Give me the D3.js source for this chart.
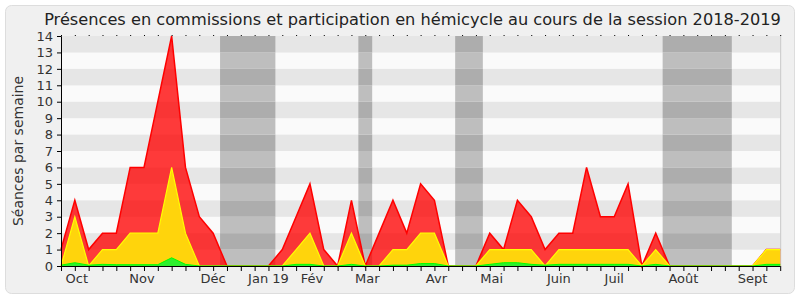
<!DOCTYPE html>
<html><head><meta charset="utf-8">
<script src="https://cdn.jsdelivr.net/npm/d3@7"></script>
<style>body{margin:0;background:#fff}</style>
</head><body>
<svg id="c" width="800" height="300"></svg>
<script>
const startWeek = "2018-10-01";
// weekly values, 53 weeks (Oct 1 2018 -> Sep 30 2019)
const redValues = [1,4,1,2,2,6,6,10,14,6,3,2,0,0,0,0,1,3,5,1,0,4,0,2,4,2,5,4,0,0,0,2,1,4,3,1,2,2,6,3,3,5,0,2,0,0,0,0,0,0,0,1,1];
const yellowValues = [0,3,0,1,1,2,2,2,6,2,0,0,0,0,0,0,0,1,2,0,0,2,0,0,1,1,2,2,0,0,0,1,1,1,1,0,1,1,1,1,1,1,0,1,0,0,0,0,0,0,0,1,1];
const greenValues = [0.05,0.2,0.05,0.1,0.08,0.08,0.08,0.08,0.5,0.1,0,0,0,0,0,0,0,0.1,0.1,0,0,0.1,0,0,0.05,0.05,0.15,0.15,0,0,0,0.1,0.2,0.2,0.1,0.05,0.1,0.1,0.1,0.1,0.1,0.1,0,0.1,0,0,0,0,0,0,0,0.1,0.1];
const vacations = [["2018-12-24","2019-01-14"],["2019-03-04","2019-03-04"],["2019-04-22","2019-04-29"],["2019-08-05","2019-09-02"]];
const monthLabels = ["Oct","Nov","Déc","Jan 19","Fév","Mar","Avr","Mai","Juin","Juil","Août","Sept"];
const monthLabelDates = ["2018-10-09","2018-11-11","2018-12-17","2019-01-14","2019-02-05","2019-03-05","2019-04-09","2019-05-07","2019-06-10","2019-07-08","2019-08-12","2019-09-16"];
const yTicks = [0,1,2,3,4,5,6,7,8,9,10,11,12,13,14];
const titleText = "Présences en commissions et participation en hémicycle au cours de la session 2018-2019";
const yTitle = "Séances par semaine";

const svg = d3.select("#c");
const font = "DejaVu Sans";
const parse = d3.utcParse("%Y-%m-%d");
const t0 = parse(startWeek);
const weeks = redValues.map((_, i) => d3.utcDay.offset(t0, 7 * i));
const W = 7 * 24 * 3600 * 1000;

const x = d3.scaleUtc().domain([weeks[0], weeks[weeks.length - 1]]).range([61, 780.2]);
const y = d3.scaleLinear().domain([0, 14]).range([266, 36]);

// frame
svg.append("rect").attr("x", 5.5).attr("y", 5.5).attr("width", 789).attr("height", 288).attr("rx", 6)
  .attr("fill", "#f0f0f0").attr("stroke", "#dddddd");

// stripes
const g = svg.append("g");
for (let k = 0; k < 14; k++) {
  g.append("rect").attr("x", x.range()[0]).attr("width", x.range()[1] - x.range()[0])
    .attr("y", y(k + 1)).attr("height", y(k) - y(k + 1))
    .attr("fill", k % 2 === 1 ? "#e6e6e6" : "#fafafa");
}
// vacation bands
vacations.forEach(([a, b]) => {
  const xa = x(new Date(parse(a).getTime() - W / 2)), xb = x(new Date(parse(b).getTime() + W / 2));
  for (let k = 0; k < 14; k++) {
    g.append("rect").attr("x", xa).attr("width", xb - xa)
      .attr("y", y(k + 1)).attr("height", y(k) - y(k + 1))
      .attr("fill", k % 2 === 1 ? "#adadad" : "#bebebe");
  }
});
// right border
svg.append("line").attr("x1", 780.7).attr("x2", 780.7).attr("y1", 36).attr("y2", 266).attr("stroke", "#c8c8c8");

function area(vals) { return d3.area().x((d, i) => x(weeks[i])).y0(y(0)).y1(d => y(d))(vals); }
function line(vals) { return d3.line().x((d, i) => x(weeks[i])).y(d => y(d))(vals); }

svg.append("path").attr("d", area(redValues)).attr("fill", "rgba(255,0,0,0.77)");
svg.append("path").attr("d", line(redValues)).attr("fill", "none").attr("stroke", "#ff0000").attr("stroke-width", 1.5);
svg.append("path").attr("d", area(yellowValues)).attr("fill", "#ffd40c");
svg.append("path").attr("d", line(yellowValues)).attr("fill", "none").attr("stroke", "#ffff00").attr("stroke-width", 1.2);
svg.append("path").attr("d", area(greenValues)).attr("fill", "#2ef02e");
svg.append("path").attr("d", line(greenValues)).attr("fill", "none").attr("stroke", "#00ff00").attr("stroke-width", 1);

// axes
const yAxis = d3.axisLeft(y).tickValues(yTicks).tickSize(4).tickPadding(4);
const ya = svg.append("g").attr("transform", "translate(61,0)").call(yAxis);
ya.select(".domain").attr("stroke", "#000");
ya.selectAll("text").attr("font-family", font).attr("font-size", 13).attr("fill", "#333");

const xAxis = d3.axisBottom(x).tickValues(weeks).tickSize(5).tickFormat("");
const xa = svg.append("g").attr("transform", "translate(0,266)").call(xAxis);
xa.select(".domain").attr("stroke", "#000").attr("d", "M61,0.5H780.2");
const xt = d3.axisTop(x).tickValues(weeks).tickSize(2).tickFormat("");
const xta = svg.append("g").attr("transform", "translate(0,36)").call(xt);
xta.select(".domain").remove();
xta.selectAll("line").attr("stroke", "#000").attr("stroke-dasharray", "1,1");

svg.append("g").selectAll("text").data(monthLabels).join("text")
  .attr("x", (d, i) => x(parse(monthLabelDates[i]))).attr("y", 283)
  .attr("text-anchor", "middle").attr("font-family", font).attr("font-size", 13).attr("fill", "#333")
  .text(d => d);

svg.append("text").attr("x", 412.5).attr("y", 25).attr("text-anchor", "middle")
  .attr("font-family", font).attr("font-size", 16.2).attr("fill", "#222").text(titleText);

svg.append("text").attr("transform", "translate(23,151) rotate(-90)").attr("text-anchor", "middle")
  .attr("font-family", font).attr("font-size", 14).attr("fill", "#333").text(yTitle);
</script>
</body></html>
